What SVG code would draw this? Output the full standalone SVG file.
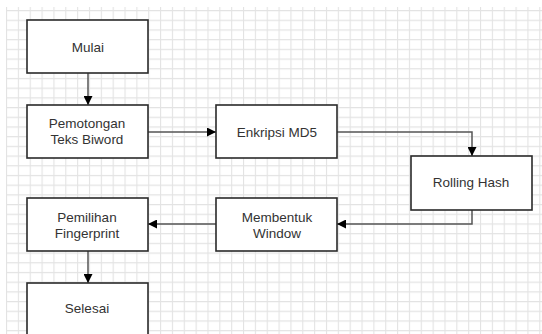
<svg xmlns="http://www.w3.org/2000/svg" width="542" height="334" viewBox="0 0 542 334">
  <defs>
    <pattern id="grid" x="6" y="10" width="11.85" height="9.7" patternUnits="userSpaceOnUse">
      <path d="M0.5,0 V9.7 M0,0.5 H11.85" fill="none" stroke="#e3e3e3" stroke-width="1.2"/>
    </pattern>
    <marker id="arrow" viewBox="0 0 10 10" refX="10" refY="5" markerWidth="9" markerHeight="9" markerUnits="userSpaceOnUse" orient="auto">
      <path d="M0,0 L10,5 L0,10 z" fill="#000"/>
    </marker>
  </defs>
  <style>
    .box { fill: #fff; stroke: #2a2a2a; stroke-width: 1.6; }
    .lbl { font-family: "Liberation Sans", Arial, sans-serif; font-size: 13.5px; fill: #333; text-anchor: middle; }
    .conn { fill: none; stroke: #555; stroke-width: 1.5; marker-end: url(#arrow); }
  </style>
  <rect x="0" y="0" width="542" height="334" fill="#fff"/>
  <rect x="6" y="7" width="536" height="327" fill="url(#grid)"/>

  <g id="connectors">
    <path class="conn" d="M88,73 V105"/>
    <path class="conn" d="M148,132 H216"/>
    <path class="conn" d="M337,132 H472 V156"/>
    <path class="conn" d="M472,210 V224 H337"/>
    <path class="conn" d="M216,224 H148"/>
    <path class="conn" d="M88,251 V283"/>
  </g>

  <g id="mulai">
    <rect class="box" x="27" y="20" width="121" height="53"/>
    <text class="lbl" x="88" y="52">Mulai</text>
  </g>
  <g id="pemotongan">
    <rect class="box" x="27" y="105" width="121" height="53"/>
    <text class="lbl" x="87" y="128">Pemotongan</text>
    <text class="lbl" x="87" y="144">Teks Biword</text>
  </g>
  <g id="enkripsi">
    <rect class="box" x="216" y="105" width="121" height="53"/>
    <text class="lbl" x="277" y="137">Enkripsi MD5</text>
  </g>
  <g id="rolling">
    <rect class="box" x="411" y="156" width="121" height="54"/>
    <text class="lbl" x="471" y="187">Rolling Hash</text>
  </g>
  <g id="membentuk">
    <rect class="box" x="216" y="198" width="121" height="53"/>
    <text class="lbl" x="277" y="222">Membentuk</text>
    <text class="lbl" x="277" y="238">Window</text>
  </g>
  <g id="pemilihan">
    <rect class="box" x="27" y="198" width="121" height="53"/>
    <text class="lbl" x="87" y="222">Pemilihan</text>
    <text class="lbl" x="87" y="238">Fingerprint</text>
  </g>
  <g id="selesai">
    <rect class="box" x="27" y="283" width="121" height="56"/>
    <text class="lbl" x="87" y="313">Selesai</text>
  </g>
</svg>
